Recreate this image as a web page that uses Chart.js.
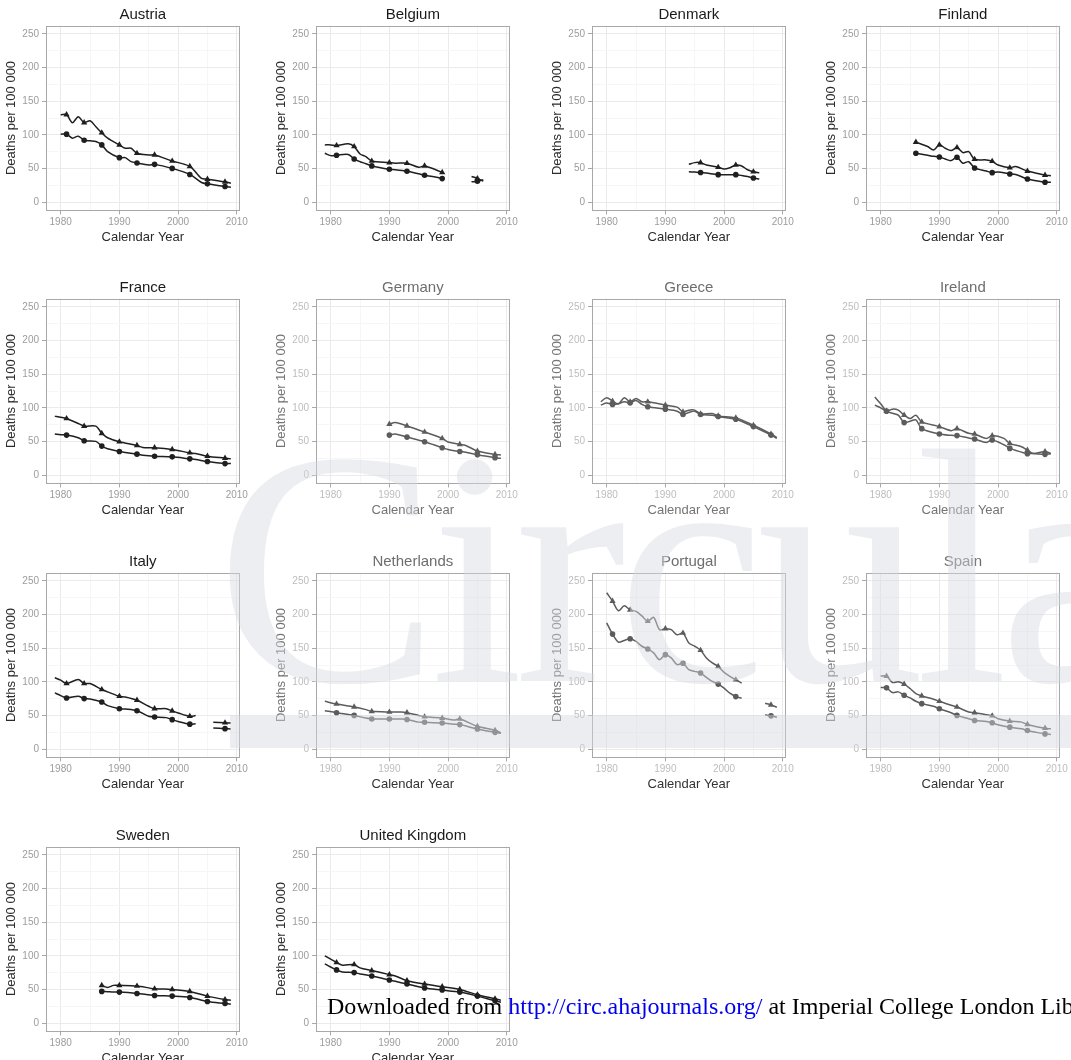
<!DOCTYPE html>
<html>
<head>
<meta charset="utf-8">
<script src="https://cdn.jsdelivr.net/npm/chart.js@4.4.1/dist/chart.umd.min.js"></script>
<style>
  body { margin: 0; background: #fff; }
  #page { position: relative; width: 1071px; height: 1060px; overflow: hidden; background: #fff; }
  .panel { position: absolute; width: 250px; height: 250px; }
  #watermark {
    position: absolute; left: 216px; top: 400px; white-space: nowrap;
    font-family: "Liberation Serif", "Times New Roman", serif; font-size: 335px;
    letter-spacing: -9px; color: rgba(214, 218, 226, 0.45); pointer-events: none; line-height: 1;
  }
  #band { position: absolute; left: 230px; top: 715px; width: 841px; height: 33px;
    background: rgba(212, 216, 224, 0.45); pointer-events: none; }
  #footer { position: absolute; left: 327px; top: 993px; white-space: nowrap;
    font-family: "Liberation Serif", "Times New Roman", serif; font-size: 24px; color: #000; }
  #footer span { color: #0000ee; }
</style>
</head>
<body>
<div id="page"></div>
<script>
// years with a marker (every third year)
const markYears = [1981, 1984, 1987, 1990, 1993, 1996, 1999, 2002, 2005, 2008];
const finlandMarks = [1986, 1990, 1993, 1996, 1999, 2002, 2005, 2008];
const xTicks = [1980, 1985, 1990, 1995, 2000, 2005, 2010];
const yTicks = [0, 25, 50, 75, 100, 125, 150, 175, 200, 225, 250];

const austriaYears = [1980, 1981, 1982, 1983, 1984, 1985, 1986, 1987, 1988, 1990, 1991, 1992, 1993, 1995, 1996, 1999, 2002, 2004, 2005, 2008, 2009];
const austriaUpper = [130, 130, 118, 127, 118, 121, 112, 103, 95, 85, 80, 80, 72.5, 70, 70, 61, 53, 35, 34, 30, 28];
const austriaLower = [101, 101, 95, 98, 92, 91, 90, 85, 75, 66, 66, 60, 58, 55, 56, 50, 41, 29, 27, 23, 22];

const belgiumYears = [1979, 1980, 1981, 1983, 1984, 1985, 1986, 1987, 1990, 1991, 1993, 1995, 1996, 1998, 1999, 2000, 2004, 2005, 2006];
const belgiumUpper = [85, 85, 84, 86.5, 82.5, 71.5, 67.5, 61, 58.6, 57.7, 57.7, 51.7, 53.7, 47.7, 44, null, 38, 35, 31];
const belgiumLower = [72.6, 69, 69.6, 70.6, 64, 60, 57, 53.7, 48.7, 48, 45.7, 42, 39.8, 36.8, 34.8, null, 30, 31, 33];

const denmarkYears = [1994, 1995, 1996, 1997, 1999, 2000, 2001, 2002, 2003, 2004, 2005, 2006];
const denmarkUpper = [56, 58.6, 58.6, 55, 51.7, 49, 51, 55, 53.6, 48, 45, 43.7];
const denmarkLower = [45, 44.5, 44, 43, 40.7, 40.5, 40.5, 40.7, 39.5, 37.8, 35.8, 34.3];

const finlandYears = [1986, 1988, 1989, 1990, 1991, 1992, 1993, 1994, 1995, 1996, 1998, 1999, 2000, 2002, 2003, 2005, 2007, 2008, 2009];
const finlandUpper = [89, 82.5, 77.5, 85, 80, 76.5, 81, 73.5, 75, 63.6, 62.6, 60.6, 55, 51, 52.7, 46, 42, 40, 39];
const finlandLower = [72.6, 69.6, 68, 67, 64, 61.6, 66.6, 57.7, 60, 50.7, 46, 43.7, 44.7, 41.7, 41, 34.3, 30.8, 29.3, 29.3];

const franceYears = [1979, 1980, 1981, 1983, 1984, 1986, 1987, 1988, 1990, 1993, 1994, 1996, 1999, 2002, 2003, 2005, 2008, 2009];
const franceUpper = [87.6, 86, 84, 76.7, 72.8, 72.8, 62, 55.4, 49.5, 44, 41, 40.6, 38, 33, 32, 28, 25, 24];
const franceLower = [61, 60, 59.4, 55.4, 51, 50, 43, 39, 35, 31, 29.5, 28, 27, 24, 23, 20, 17, 17];

const germanyYears = [1990, 1991, 1993, 1996, 1999, 2000, 2002, 2003, 2005, 2008, 2009];
const germanyUpper = [75.7, 78, 73, 64, 54.5, 49, 45.5, 44, 35.6, 30.7, 29.7];
const germanyLower = [59.4, 61, 56.4, 49.5, 40.6, 38, 35, 34, 30, 25.7, 24.8];

const greeceYears = [1979, 1980, 1981, 1982, 1983, 1984, 1985, 1986, 1987, 1990, 1992, 1993, 1994, 1995, 1996, 1998, 1999, 2002, 2005, 2008, 2009];
const greeceUpper = [109, 115, 110, 106, 115, 109, 114, 109, 109, 104, 101, 94, 96.5, 96.5, 91, 91.5, 88, 85, 74, 61, 56];
const greeceLower = [104, 107, 105, 106, 109, 107.4, 111, 105, 101.5, 98, 95, 90, 93, 95, 90, 89, 87, 83, 72, 59.4, 54.5];

const irelandYears = [1979, 1980, 1981, 1982, 1983, 1984, 1985, 1986, 1987, 1990, 1992, 1993, 1995, 1996, 1998, 1999, 2001, 2002, 2004, 2005, 2006, 2008, 2009];
const irelandUpper = [104, 100, 95, 98, 96.5, 89, 84, 89, 79, 72, 66, 69, 62, 61, 54.5, 58.6, 54.5, 47, 42, 37, 32, 35, 32];
const irelandLower = [116, 106, 95, 92, 89, 78, 80, 82, 69, 61, 59, 58.6, 55, 53.5, 48.5, 52, 45, 39.6, 34, 31.7, 32, 30.7, 31.7];

const italyYears = [1979, 1980, 1981, 1983, 1984, 1985, 1987, 1988, 1990, 1991, 1993, 1995, 1996, 1998, 1999, 2000, 2002, 2003, 2004, 2006, 2008, 2009];
const italyUpper = [106, 102.4, 97.4, 103.4, 97.4, 97.4, 88.5, 85, 78.5, 77.5, 72.6, 63.6, 60, 60, 56.7, 53.7, 48.7, 49.7, null, 39.8, 39, 38.8];
const italyLower = [83.5, 79.5, 76, 78.5, 75, 74.5, 70, 64.6, 60, 59.5, 57, 48.7, 47.7, 46.7, 43.7, 41, 37, 37.6, null, 31.3, 30.3, 29.8];

const netherlandsYears = [1979, 1981, 1984, 1986, 1987, 1990, 1992, 1993, 1995, 1996, 1999, 2001, 2002, 2005, 2008, 2009];
const netherlandsUpper = [71, 67, 62.6, 58.6, 56, 55, 55, 54, 50, 48, 46, 43, 44.7, 33.8, 27.8, 24];
const netherlandsLower = [57, 54, 50, 46, 44.7, 44.7, 44.5, 44, 40, 39.8, 38.8, 37, 36.3, 29.8, 24.8, 23.4];

const portugalYears = [1980, 1981, 1982, 1983, 1984, 1985, 1986, 1987, 1988, 1989, 1990, 1991, 1992, 1993, 1994, 1995, 1996, 1997, 1998, 1999, 2000, 2001, 2002, 2003, 2004, 2007, 2008, 2009];
const portugalUpper = [232.5, 220, 205.7, 213, 207, 204.7, 198, 190, 196, 177.6, 179, 177.6, 170, 172.6, 157.8, 152.9, 146.9, 135.5, 128, 123, 114, 108, 103, 98, null, 68, 65.7, 62];
const portugalLower = [187.7, 171, 159, 161.6, 164, 160, 152.9, 148.9, 143, 133, 140.4, 135.5, 125.5, 127.5, 118, 115.5, 113, 106.6, 100.6, 96.6, 90.6, 83, 78, 75.7, null, 50.8, 49.3, 47.3];

const spainYears = [1980, 1981, 1982, 1983, 1984, 1985, 1986, 1987, 1989, 1990, 1992, 1993, 1995, 1996, 1998, 1999, 2000, 2002, 2004, 2005, 2007, 2008, 2009];
const spainUpper = [108.5, 108.5, 99, 100, 96.5, 90, 82.5, 79, 74, 71, 65, 62.5, 55, 54, 51, 49.5, 45, 41.5, 40, 36.5, 32.5, 31, 30];
const spainLower = [91.5, 91, 84, 85, 80, 76, 71, 67.5, 63.5, 60, 54, 50, 45, 42.5, 41, 39, 36, 32.5, 30, 27.5, 24, 22.5, 21.5];

const swedenYears = [1987, 1988, 1989, 1990, 1993, 1996, 1999, 2002, 2005, 2008, 2009];
const swedenUpper = [56, 53, 56, 56, 55, 51, 50, 47, 40, 35, 34];
const swedenLower = [47, 46.5, 46, 46, 44, 41, 40, 38, 32, 29, 28];

const ukYears = [1979, 1981, 1982, 1984, 1985, 1987, 1990, 1991, 1993, 1996, 1999, 2002, 2005, 2008, 2009];
const ukUpper = [100, 90, 86, 87, 82, 78, 72, 70, 63, 58, 54, 50, 42, 36, 34];
const ukLower = [88, 79, 76, 75, 73, 70, 64, 62, 58, 52, 49, 46, 40, 33, 31];

const panels = [
  ["Austria", austriaYears, austriaUpper, austriaLower],
  ["Belgium", belgiumYears, belgiumUpper, belgiumLower],
  ["Denmark", denmarkYears, denmarkUpper, denmarkLower],
  ["Finland", finlandYears, finlandUpper, finlandLower, finlandMarks],
  ["France", franceYears, franceUpper, franceLower],
  ["Germany", germanyYears, germanyUpper, germanyLower],
  ["Greece", greeceYears, greeceUpper, greeceLower],
  ["Ireland", irelandYears, irelandUpper, irelandLower],
  ["Italy", italyYears, italyUpper, italyLower],
  ["Netherlands", netherlandsYears, netherlandsUpper, netherlandsLower],
  ["Portugal", portugalYears, portugalUpper, portugalLower],
  ["Spain", spainYears, spainUpper, spainLower],
  ["Sweden", swedenYears, swedenUpper, swedenLower],
  ["United Kingdom", ukYears, ukUpper, ukLower]
];
// panels sitting under the watermark look washed out in the scan
const fadedPanels = ["Germany", "Greece", "Ireland", "Netherlands", "Portugal", "Spain"];
// the bottom row of the watermark area keeps its dark x titles
const darkXTitle = ["Netherlands", "Portugal", "Spain"];

const colLeft = [0, 270, 546, 820];
const rowTop = [0, 273, 547, 821];
const FONT = "'Liberation Sans', Arial, Helvetica, sans-serif";

// ggplot style panel border
const panelBox = {
  id: "panelBox",
  afterDraw(chart) {
    const a = chart.chartArea, c = chart.ctx;
    c.save();
    c.strokeStyle = "#a8a8a8";
    c.lineWidth = 1;
    c.strokeRect(Math.round(a.left) + 0.5, Math.round(a.top) + 0.5, Math.round(a.right - a.left) - 1, Math.round(a.bottom - a.top) - 1);
    c.restore();
  }
};

// strip title centred over the plot panel, not the whole canvas
const panelTitle = {
  id: "panelTitle",
  afterDraw(chart, args, opts) {
    const a = chart.chartArea, c = chart.ctx;
    c.save();
    c.font = `15px ${FONT}`;
    c.fillStyle = opts.color;
    c.textAlign = "center";
    c.textBaseline = "middle";
    c.fillText(opts.text, (a.left + a.right) / 2, 15);
    c.restore();
  }
};

function pts(years, vals) {
  return years.map((yr, i) => ({ x: yr, y: vals[i] }));
}

const page = document.getElementById("page");

panels.forEach((p, i) => {
  const [name, years, upper, lower, marks = markYears] = p;
  const faded = fadedPanels.includes(name);
  const ink = faded ? "#5c5c5c" : "#1f1f1f";
  const titleColor = faded ? "#6e6e6e" : "#1a1a1a";
  const tickText = faded ? "#bdbdbd" : "#9c9c9c";
  const axisText = faded ? "#747474" : "#2b2b2b";
  const xTitleColor = darkXTitle.includes(name) ? "#333" : axisText;

  const div = document.createElement("div");
  div.className = "panel";
  div.style.left = colLeft[i % 4] + "px";
  div.style.top = rowTop[Math.floor(i / 4)] + "px";
  const canvas = document.createElement("canvas");
  canvas.width = 250;
  canvas.height = 250;
  div.appendChild(canvas);
  page.appendChild(div);

  const markRadius = (r) => (ctx) => {
    const d = ctx.raw;
    return d && d.y !== null && marks.includes(d.x) ? r : 0;
  };

  const line = (vals, style, r) => ({
    data: pts(years, vals),
    borderColor: ink,
    borderWidth: 1.5,
    tension: 0.3,
    pointStyle: style,
    pointRadius: markRadius(r),
    pointBackgroundColor: ink,
    pointBorderColor: ink,
    pointBorderWidth: 0
  });

  new Chart(canvas, {
    type: "line",
    data: { datasets: [line(upper, "triangle", 3.6), line(lower, "circle", 2.8)] },
    plugins: [panelBox, panelTitle],
    options: {
      responsive: false,
      animation: false,
      events: [],
      layout: { padding: { top: 25.6, right: 8, bottom: 0, left: 0 } },
      plugins: {
        legend: { display: false },
        tooltip: { enabled: false },
        title: { display: false },
        panelTitle: { text: name, color: titleColor }
      },
      scales: {
        x: {
          type: "linear",
          min: 1977.5,
          max: 2010.5,
          afterBuildTicks: (s) => { s.ticks = xTicks.map((v) => ({ value: v })); },
          afterFit: (s) => { s.height = 39.6; },
          ticks: {
            autoSkip: false,
            maxRotation: 0,
            padding: 2,
            color: tickText,
            font: { family: FONT, size: 10 },
            callback: (v) => (v % 10 === 0 ? `${v}` : "")
          },
          grid: {
            color: (c) => (c.tick && c.tick.value % 10 === 0 ? "#ebebeb" : "#f6f6f6"),
            tickColor: (c) => (c.tick && c.tick.value % 10 === 0 ? "#a8a8a8" : "rgba(0,0,0,0)"),
            tickLength: 4
          },
          border: { display: false },
          title: {
            display: true,
            text: "Calendar Year",
            color: xTitleColor,
            font: { family: FONT, size: 13 },
            padding: { top: 0, bottom: 5 }
          }
        },
        y: {
          min: -12.5,
          max: 262.5,
          afterBuildTicks: (s) => { s.ticks = yTicks.map((v) => ({ value: v })); },
          afterFit: (s) => { s.width = 46; },
          ticks: {
            autoSkip: false,
            padding: 3,
            color: tickText,
            font: { family: FONT, size: 10 },
            callback: (v) => (v % 50 === 0 ? `${v}` : "")
          },
          grid: {
            color: (c) => (c.tick && c.tick.value % 50 === 0 ? "#ebebeb" : "#f6f6f6"),
            tickColor: (c) => (c.tick && c.tick.value % 50 === 0 ? "#a8a8a8" : "rgba(0,0,0,0)"),
            tickLength: 4
          },
          border: { display: false },
          title: {
            display: true,
            text: "Deaths per 100 000",
            color: axisText,
            font: { family: FONT, size: 13 },
            padding: { top: 4, bottom: 0 }
          }
        }
      }
    }
  });
});

// journal watermark and download stamp from the scanned page
const wm = document.createElement("div");
wm.id = "watermark";
wm.textContent = "Circula";
page.appendChild(wm);
const band = document.createElement("div");
band.id = "band";
page.appendChild(band);
const footer = document.createElement("div");
footer.id = "footer";
footer.innerHTML = "Downloaded from <span>http://circ.ahajournals.org/</span> at Imperial College London Lib";
page.appendChild(footer);
</script>
</body>
</html>
